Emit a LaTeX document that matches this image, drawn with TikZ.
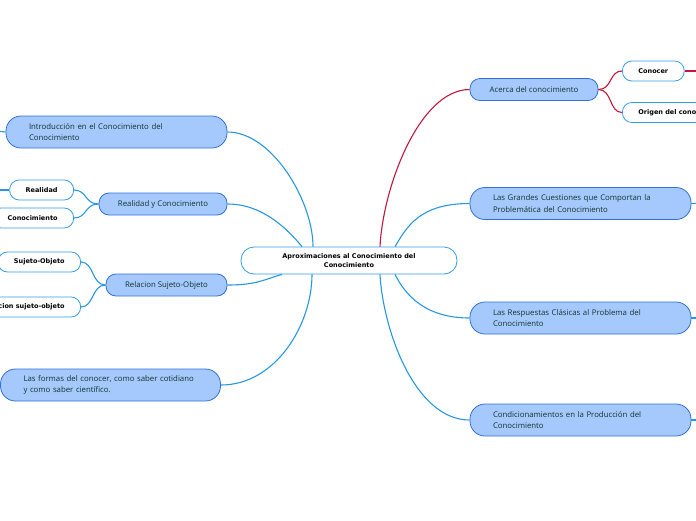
\documentclass[tikz,border=0pt]{standalone}
\usepackage{fontspec}
\setmainfont{Open Sans}
\newfontfamily\leaffont{DejaVu Sans}
\usetikzlibrary{positioning}

\definecolor{branchfill}{RGB}{166,201,253}
\definecolor{branchline}{RGB}{48,112,216}
\definecolor{branchtext}{RGB}{16,52,44}
\definecolor{linkblue}{RGB}{38,152,224}
\definecolor{linkred}{RGB}{196,22,60}
\definecolor{leafline}{RGB}{52,156,232}

\begin{document}
\begin{tikzpicture}[x=1pt, y=-1pt,
    root/.style={draw=leafline, fill=white, line width=0.8pt, rounded corners=13pt, minimum width=216pt, minimum height=27pt, inner sep=0pt, align=center, font=\leaffont\bfseries\fontsize{6.5}{9}\selectfont},
    branch/.style={draw=branchline, fill=branchfill, line width=0.8pt, text=branchtext, inner sep=0pt, font=\fontsize{7.8}{11.5}\selectfont},
    longbranch/.style={branch, rounded corners=15pt, minimum height=32pt, inner xsep=23pt, text width=175pt, align=left},
    shortbranch/.style={branch, rounded corners=10pt, minimum height=22pt, align=center},
    leaf/.style={draw=leafline, fill=white, line width=0.8pt, rounded corners=9.5pt, minimum height=20pt, inner xsep=16pt, inner ysep=0pt, font=\leaffont\bfseries\fontsize{6.5}{8}\selectfont},
    link/.style={draw=linkblue, line width=1.1pt},
    redlink/.style={draw=linkred, line width=1.1pt}]
    \useasboundingbox (0,0) rectangle (696,520);

    % centre
    \node[root] (root) at (349,260.5) {Aproximaciones al Conocimiento del\\Conocimiento};

    % left side
    \node[longbranch] (intro) at (116.5,132) {Introducción en el Conocimiento del\\Conocimiento};
    \node[shortbranch, minimum width=128pt] (realcon) at (163,204) {Realidad y Conocimiento};
    \node[leaf, anchor=east] (realidad) at (74,190) {Realidad};
    \node[leaf, anchor=east] (conoc) at (74,218) {Conocimiento};
    \node[shortbranch, minimum width=121pt] (relacion) at (166.5,285) {Relacion Sujeto-Objeto};
    \node[leaf, anchor=east] (sujobj) at (81,262) {Sujeto-Objeto};
    \node[leaf, anchor=east] (relso) at (81,307) {Relacion sujeto-objeto};
    \node[longbranch, text width=174pt] (formas) at (110.5,385) {Las formas del conocer, como saber cotidiano\\y como saber científico.};

    % right side
    \node[shortbranch, minimum width=128pt] (acerca) at (534,89.5) {Acerca del conocimiento};
    \node[leaf, anchor=west] (conocer) at (622,71) {Conocer};
    \node[leaf, anchor=west] (origen) at (622,112.5) {Origen del conocimiento};
    \node[longbranch] (grandes) at (580.5,203.5) {Las Grandes Cuestiones que Comportan la\\Problemática del Conocimiento};
    \node[longbranch] (respuestas) at (580.5,318) {Las Respuestas Clásicas al Problema del\\Conocimiento};
    \node[longbranch] (condic) at (580.5,420) {Condicionamientos en la Producción del\\Conocimiento};

    % free ends of the branches going off the page
    \coordinate (introend) at (-4,131);
    \coordinate (realidadend) at (-4,190);
    \coordinate (conocerend) at (700,71);
    \coordinate (grandesend) at (700,203.5);
    \coordinate (respuestasend) at (700,318);
    \coordinate (condicend) at (700,420);

    % links to the centre
    \path[link] (intro.east) .. controls +(45,0) and +(0,-45) .. ([xshift=-36pt]root.north);
    \path[link] (realcon.east) .. controls +(35,0) and +(-15,-18) .. ([xshift=-47pt]root.north);
    \path[link] (relacion.east) .. controls +(30,0) and +(-18,5) .. ([xshift=-67pt]root.south);
    \path[link] (formas.east) .. controls +(55,0) and +(0,50) .. ([xshift=-37pt]root.south);
    \path[redlink] (acerca.west) .. controls +(-50,0) and +(3,-60) .. ([xshift=31pt]root.north);
    \path[link] (grandes.west) .. controls +(-50,0) and +(12,-20) .. ([xshift=46pt]root.north);
    \path[link] (respuestas.west) .. controls +(-45,0) and +(10,20) .. ([xshift=46pt]root.south);
    \path[link] (condic.west) .. controls +(-55,0) and +(3,55) .. ([xshift=31pt]root.south);

    % sub-branches
    \path[link] (realcon.west) .. controls +(-14,0) and +(13,0) .. (realidad.east);
    \path[link] (realcon.west) .. controls +(-14,0) and +(13,0) .. (conoc.east);
    \path[link] (relacion.west) .. controls +(-14,0) and +(13,0) .. (sujobj.east);
    \path[link] (relacion.west) .. controls +(-14,0) and +(13,0) .. (relso.east);
    \path[redlink] (acerca.east) .. controls +(14,0) and +(-13,0) .. (conocer.west);
    \path[redlink] (acerca.east) .. controls +(14,0) and +(-13,0) .. (origen.west);

    % branches that leave the page
    \path[link] (intro.west) -- (introend);
    \path[link] (realidad.west) -- (realidadend);
    \path[redlink] (conocer.east) -- (conocerend);
    \path[link] (grandes.east) -- (grandesend);
    \path[link] (respuestas.east) -- (respuestasend);
    \path[link] (condic.east) -- (condicend);
\end{tikzpicture}
\end{document}
